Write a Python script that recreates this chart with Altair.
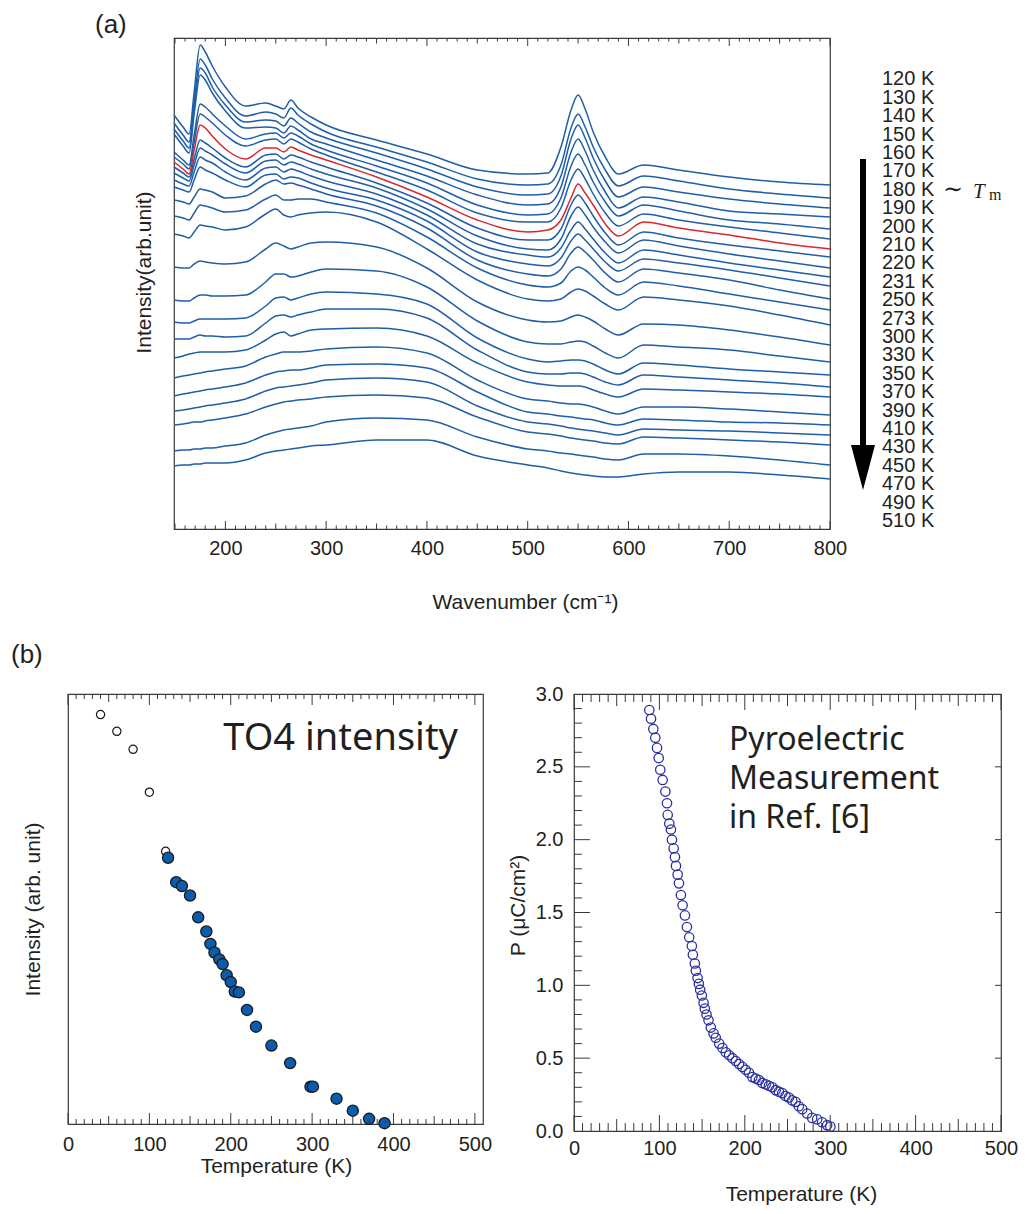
import altair as alt
import pandas as pd

# ---------------- colours / fonts ----------------
INK = "#231f20"
FRAME = "#3a3a3a"
LINE_BLUE = "#1f5ea8"
LINE_RED = "#d9282f"
DOT_BLUE = "#0b5cad"
NAVY = "#2b2f9e"
SANS = "Liberation Sans"
GOTHIC = "Noto Sans"
SERIF = "Liberation Serif"

# ---------------- panel (a): spectra ----------------
WAVENUMBER = [149, 158, 164, 169, 175, 180, 187, 200, 220, 240, 250, 258, 265, 272, 285,
              300, 350, 400, 450, 500, 520, 533, 543, 550, 557, 565, 577, 590, 615, 650,
              700, 750, 800]
TEMP_LABELS = ["120 K", "130 K", "140 K", "150 K", "160 K", "170 K", "180 K", "190 K",
               "200 K", "210 K", "220 K", "231 K", "250 K", "273 K", "300 K", "330 K",
               "350 K", "370 K", "390 K", "410 K", "430 K", "450 K", "470 K", "490 K", "510 K"]
RED_CURVE = "180 K"
# readings of each offset trace, measured downward (intensity = REF - reading)
REF = 527
SPECTRA = [
    [113, 125, 132, 90, 43, 50, 64, 85, 104, 101, 104, 107, 98, 106, 115, 123, 138, 152, 168, 172, 171, 145, 108, 93, 107, 130, 155, 172, 163, 168, 175, 180, 183],
    [121, 133, 140, 100, 57, 63, 77, 96, 114, 110, 112, 116, 106, 113, 122, 130, 145, 160, 177, 183, 182, 163, 126, 112, 125, 145, 168, 184, 174, 179, 187, 192, 196],
    [127, 139, 146, 106, 66, 71, 85, 103, 120, 118, 119, 124, 116, 121, 130, 136, 151, 167, 185, 193, 192, 174, 137, 123, 136, 156, 179, 195, 185, 190, 197, 202, 206],
    [132, 144, 151, 112, 73, 78, 91, 109, 126, 125, 126, 131, 124, 128, 137, 142, 158, 174, 193, 203, 202, 185, 150, 137, 149, 168, 190, 206, 195, 200, 209, 212, 215],
    [150, 158, 163, 133, 102, 105, 112, 124, 137, 132, 131, 136, 131, 134, 142, 148, 164, 181, 203, 213, 212, 196, 164, 152, 163, 180, 200, 214, 203, 209, 218, 222, 227],
    [155, 162, 167, 140, 112, 115, 121, 133, 144, 138, 137, 142, 137, 140, 147, 153, 170, 188, 211, 220, 220, 206, 178, 167, 177, 192, 211, 224, 212, 218, 225, 231, 237],
    [160, 167, 172, 148, 123, 126, 134, 147, 157, 146, 146, 150, 145, 148, 153, 158, 175, 195, 218, 230, 228, 218, 196, 182, 191, 203, 222, 234, 220, 226, 233, 241, 247],
    [165, 171, 175, 157, 138, 141, 146, 156, 165, 153, 152, 157, 153, 155, 160, 165, 181, 201, 226, 238, 238, 227, 203, 193, 201, 214, 231, 243, 230, 236, 243, 249, 255],
    [171, 176, 179, 163, 146, 149, 153, 162, 171, 159, 158, 163, 160, 162, 167, 172, 186, 207, 234, 247, 248, 237, 214, 205, 213, 225, 240, 251, 238, 244, 252, 259, 266],
    [178, 182, 184, 170, 155, 158, 161, 170, 178, 166, 165, 170, 167, 169, 174, 179, 192, 213, 242, 253, 255, 246, 228, 220, 227, 237, 251, 261, 248, 253, 261, 268, 275],
    [185, 188, 190, 178, 165, 168, 171, 178, 185, 173, 172, 177, 175, 176, 181, 186, 198, 219, 250, 262, 264, 256, 239, 232, 238, 247, 260, 269, 257, 261, 268, 276, 284],
    [198, 200, 202, 195, 187, 188, 190, 196, 194, 182, 178, 182, 181, 183, 187, 192, 204, 226, 258, 272, 274, 267, 251, 245, 250, 258, 271, 280, 267, 271, 278, 288, 297],
    [214, 216, 218, 211, 203, 204, 206, 210, 208, 197, 193, 198, 198, 197, 197, 200, 211, 235, 266, 283, 285, 281, 269, 265, 268, 275, 286, 293, 280, 284, 292, 300, 308],
    [232, 234, 236, 230, 223, 224, 225, 228, 225, 212, 207, 213, 215, 213, 211, 210, 220, 247, 278, 297, 299, 297, 290, 287, 289, 294, 302, 308, 295, 298, 304, 313, 323],
    [265, 266, 266, 262, 259, 260, 261, 262, 260, 247, 241, 244, 247, 245, 241, 240, 245, 266, 300, 318, 320, 319, 315, 313, 315, 319, 327, 333, 322, 323, 328, 335, 343],
    [298, 299, 299, 296, 293, 293, 294, 294, 293, 280, 272, 272, 275, 274, 270, 267, 269, 285, 319, 340, 342, 342, 340, 339, 340, 344, 351, 356, 343, 345, 348, 354, 360],
    [320, 321, 321, 319, 317, 317, 317, 317, 316, 304, 296, 295, 298, 296, 292, 290, 292, 302, 336, 357, 360, 359, 358, 358, 359, 362, 368, 372, 361, 363, 367, 370, 373],
    [337, 337, 337, 335, 333, 334, 334, 335, 334, 321, 314, 313, 315, 313, 310, 307, 307, 316, 348, 370, 372, 372, 371, 371, 372, 375, 380, 383, 373, 375, 378, 381, 385],
    [356, 354, 352, 351, 350, 350, 350, 350, 348, 338, 332, 330, 334, 332, 328, 327, 326, 334, 361, 380, 383, 384, 384, 384, 385, 388, 392, 395, 387, 388, 390, 392, 395],
    [376, 374, 373, 372, 371, 370, 369, 367, 364, 355, 352, 350, 350, 350, 349, 347, 345, 351, 378, 397, 399, 401, 402, 402, 403, 405, 409, 412, 405, 405, 407, 410, 413],
    [394, 392, 391, 390, 389, 388, 387, 385, 381, 373, 370, 369, 368, 368, 366, 363, 362, 366, 390, 410, 412, 414, 415, 416, 417, 418, 421, 423, 417, 418, 420, 421, 423],
    [409, 408, 407, 406, 405, 404, 403, 401, 397, 389, 386, 385, 384, 383, 381, 378, 376, 380, 404, 420, 422, 424, 426, 427, 428, 429, 431, 433, 427, 428, 429, 431, 433],
    [423, 422, 421, 420, 420, 419, 418, 416, 412, 405, 402, 400, 399, 398, 397, 395, 393, 396, 415, 430, 432, 434, 436, 437, 438, 439, 441, 442, 435, 436, 438, 440, 443],
    [449, 448, 448, 447, 447, 446, 446, 444, 441, 433, 430, 428, 427, 426, 424, 420, 416, 418, 435, 447, 449, 451, 452, 453, 454, 455, 457, 458, 452, 452, 454, 458, 463],
    [464, 463, 463, 462, 462, 461, 461, 461, 458, 451, 449, 448, 447, 446, 444, 443, 438, 438, 454, 463, 466, 469, 471, 472, 473, 474, 475, 475, 472, 470, 470, 473, 477],
]
A_XTICK_LABELS = [200, 300, 400, 500, 600, 700, 800]

# ---------------- panel (b) left: TO4 intensity ----------------
OPEN_T = [40, 60, 80, 100, 120]
OPEN_I = [95.7, 91.8, 87.6, 77.6, 63.8]
FILL_T = [123, 133, 140, 150, 160, 170, 175, 180, 186, 190, 195, 200, 205, 210, 220, 231,
          250, 273, 298, 301, 330, 350, 370, 389]
FILL_I = [62.3, 56.6, 55.7, 53.5, 48.4, 45.1, 42.2, 40.2, 38.6, 37.5, 34.9, 33.3, 31.1, 30.9,
          26.8, 22.9, 18.5, 14.4, 8.9, 8.9, 6.1, 3.3, 1.4, 0.4]
B_XTICK_LABELS = [0, 100, 200, 300, 400, 500]

# ---------------- panel (b) right: pyroelectric P ----------------
PYRO_T = [88.2, 90.2, 92.9, 95.2, 97.2, 99.2, 101.0, 103.8, 107.0, 108.9, 109.7, 111.6, 113.5,
          114.7, 116.7, 118.2, 119.4, 121.4, 122.9, 125.2, 127.2, 129.9, 132.2, 134.9, 138.0,
          139.2, 141.5, 142.7, 144.7, 146.2, 147.7, 149.7, 151.7, 153.2, 155.2, 157.5, 160.2,
          163.4, 166.0, 170.0, 173.9, 177.7, 181.6, 185.5, 189.4, 193.2, 197.2, 201.0, 204.9,
          208.9, 212.7, 216.6, 220.5, 224.4, 228.3, 232.2, 236.1, 239.9, 243.9, 247.7, 251.6,
          255.5, 259.4, 263.3, 267.2, 273.0, 278.9, 284.7, 290.5, 296.4, 300.2]
PYRO_P = [2.89, 2.83, 2.76, 2.70, 2.63, 2.56, 2.48, 2.41, 2.33, 2.25, 2.17, 2.11, 2.07, 2.00,
          1.94, 1.88, 1.82, 1.76, 1.70, 1.62, 1.55, 1.48, 1.40, 1.33, 1.27, 1.21, 1.15, 1.10,
          1.05, 1.01, 0.97, 0.93, 0.88, 0.84, 0.80, 0.76, 0.71, 0.67, 0.64, 0.60, 0.57, 0.54,
          0.52, 0.50, 0.48, 0.46, 0.44, 0.42, 0.40, 0.37, 0.36, 0.35, 0.33, 0.32, 0.31, 0.30,
          0.28, 0.27, 0.26, 0.24, 0.23, 0.21, 0.20, 0.17, 0.15, 0.12, 0.09, 0.08, 0.06, 0.04, 0.03]
P_TICK_LABELS = [0.0, 0.5, 1.0, 1.5, 2.0, 2.5, 3.0]

assert all(len(s) == len(WAVENUMBER) for s in SPECTRA)
assert len(PYRO_T) == len(PYRO_P)

# ---------------- sizes ----------------
A_W, A_H = 656, 491
BL_W, BL_H = 415, 430
BR_W, BR_H = 427, 437


def split_ticks(lo, hi, step, med, major):
    minor_v, med_v, major_v = [], [], []
    n = int(round((hi - lo) / step))
    for k in range(n + 1):
        r = round(lo + k * step, 4)
        if abs(r / major - round(r / major)) < 1e-6:
            major_v.append(r)
        elif abs(r / med - round(r / med)) < 1e-6:
            med_v.append(r)
        else:
            minor_v.append(r)
    return minor_v, med_v, major_v


def x_ticks(vals, length, h, side, scale, axis):
    df = pd.DataFrame({"v": vals})
    if side == "bottom":
        y, y2 = alt.value(h), alt.value(h - length)
    else:
        y, y2 = alt.value(0), alt.value(length)
    return alt.Chart(df).mark_rule(color=FRAME, strokeWidth=1).encode(
        x=alt.X("v:Q", scale=scale, axis=axis), y=y, y2=y2)


def y_ticks(vals, length, w, side, scale, axis):
    df = pd.DataFrame({"v": vals})
    if side == "left":
        x, x2 = alt.value(0), alt.value(length)
    else:
        x, x2 = alt.value(w), alt.value(w - length)
    return alt.Chart(df).mark_rule(color=FRAME, strokeWidth=1).encode(
        y=alt.Y("v:Q", scale=scale, axis=axis), x=x, x2=x2)


def anchor(px, py):
    # invisible layout anchor (fixes the bounds used by the concat layout)
    return alt.Chart(pd.DataFrame({"a": [0]})).mark_point(
        filled=True, opacity=0, size=1).encode(x=alt.value(px), y=alt.value(py))


def text_mark(txt, px, py, **kw):
    return alt.Chart(pd.DataFrame({"t": [txt]})).mark_text(**kw).encode(
        text="t:N", x=alt.value(px), y=alt.value(py))


TITLE = dict(titleFont=SANS, titleFontSize=21, titleFontWeight="normal", titleColor=INK,
             titleBaseline="alphabetic", titleAlign="center")
LABEL = dict(labelFont=SANS, labelFontSize=20, labelColor=INK, labelFlush=False,
             ticks=False, domain=False, grid=False)

# ================= panel (a) =================
rows = []
for lab, series in zip(TEMP_LABELS, SPECTRA):
    for w, r in zip(WAVENUMBER, series):
        rows.append({"wn": w, "I": REF - r, "T": lab})
spec_df = pd.DataFrame(rows)

xs_a = alt.Scale(domain=[149, 800], nice=False, zero=False)
ys_a = alt.Scale(domain=[0, A_H], nice=False, zero=False)

ax_a_x = alt.Axis(values=A_XTICK_LABELS, labelPadding=9, title="Wavenumber (cm⁻¹)",
                  titleX=351, titleY=79, **TITLE, **LABEL)
ax_a_y = alt.Axis(labels=False, title="Intensity(arb.unit)", titleX=-24, titleY=234,
                  titleAngle=270, **TITLE, **LABEL)

blue_lines = alt.Chart(spec_df[spec_df["T"] != RED_CURVE]).mark_line(
    color=LINE_BLUE, strokeWidth=1.5, interpolate="monotone").encode(
    x=alt.X("wn:Q", scale=xs_a, axis=ax_a_x),
    y=alt.Y("I:Q", scale=ys_a, axis=ax_a_y),
    detail="T:N")
red_line = alt.Chart(spec_df[spec_df["T"] == RED_CURVE]).mark_line(
    color=LINE_RED, strokeWidth=1.5, interpolate="monotone").encode(
    x=alt.X("wn:Q", scale=xs_a, axis=ax_a_x),
    y=alt.Y("I:Q", scale=ys_a, axis=ax_a_y))

a_minor, a_med, a_major = split_ticks(150, 800, 10, 50, 100)
a_ticks = []
for side in ("bottom", "top"):
    a_ticks += [x_ticks(a_minor, 3.5, A_H, side, xs_a, ax_a_x),
                x_ticks(a_med, 5.5, A_H, side, xs_a, ax_a_x),
                x_ticks(a_major, 8, A_H, side, xs_a, ax_a_x)]

# temperature labels stacked at the right of the frame (positions in intensity units)
LABEL_STEP = 18.4
lab_df = pd.DataFrame({"lab": TEMP_LABELS,
                       "I": [REF - 77.4 - LABEL_STEP * i for i in range(len(TEMP_LABELS))]})
labels_text = alt.Chart(lab_df).mark_text(
    align="left", baseline="middle", font=SANS, fontSize=20, color=INK).encode(
    text="lab:N", x=alt.value(708), y=alt.Y("I:Q", scale=ys_a, axis=ax_a_y))

# arrow (top of shaft, bottom of shaft, centre of head) in intensity units
ARROW = pd.DataFrame({"top": [REF - 157], "bot": [REF - 450], "head": [REF - 465.5]})
shaft = alt.Chart(ARROW).mark_rule(color="black", strokeWidth=6).encode(
    x=alt.value(689), y=alt.Y("top:Q", scale=ys_a, axis=ax_a_y), y2="bot:Q")
head = alt.Chart(ARROW).mark_point(
    shape="M-1,-1.875L1,-1.875L0,1.875Z", filled=True, color="black", opacity=1,
    size=576, strokeWidth=0).encode(
    x=alt.value(689), y=alt.Y("head:Q", scale=ys_a, axis=ax_a_y))

tm_df = lab_df[lab_df["lab"] == RED_CURVE]
tilde = alt.Chart(tm_df).mark_text(text="∼", align="left", baseline="middle",
                                   font="DejaVu Serif", fontSize=24, color=INK).encode(
    x=alt.value(769), y=alt.Y("I:Q", scale=ys_a, axis=ax_a_y))
t_sym = alt.Chart(tm_df).mark_text(text="T", align="left", baseline="alphabetic",
                                   font=SERIF, fontStyle="italic", fontSize=21,
                                   color=INK, dy=8).encode(
    x=alt.value(799), y=alt.Y("I:Q", scale=ys_a, axis=ax_a_y))
m_sym = alt.Chart(tm_df).mark_text(text="m", align="left", baseline="alphabetic",
                                   font=SERIF, fontSize=16, color=INK, dy=10).encode(
    x=alt.value(815), y=alt.Y("I:Q", scale=ys_a, axis=ax_a_y))

a_label = text_mark("(a)", -79, -26.5, align="left", baseline="top", font=SANS,
                    fontSize=26, color=INK)

panel_a = alt.layer(blue_lines, red_line, *a_ticks, labels_text, shaft, head,
                    tilde, t_sym, m_sym, a_label,
                    anchor(-80, -28), anchor(0, 586)).properties(width=A_W, height=A_H)

# empty cell that shifts panel (a) to the right of panel (b)-left's frame
spacer_a = anchor(0, 0).properties(width=22.44, height=A_H,
                                   view=alt.ViewBackground(stroke="transparent"))

# ================= panel (b) left =================
xs_bl = alt.Scale(domain=[0, 510], nice=False, zero=False)
ys_bl = alt.Scale(domain=[0.2, 100.5], nice=False, zero=False)
ax_bl_x = alt.Axis(values=B_XTICK_LABELS, labelPadding=10.5, title="Temperature (K)",
                   titleX=208, titleY=48, **TITLE, **LABEL)
ax_bl_y = alt.Axis(labels=False, title="Intensity (arb. unit)", titleX=-29, titleY=215,
                   titleAngle=270, **TITLE, **LABEL)

open_pts = alt.Chart(pd.DataFrame({"T": OPEN_T, "I": OPEN_I})).mark_point(
    shape="circle", filled=True, fill="white", stroke="#1a1a1a", strokeWidth=1.2,
    size=68, opacity=1).encode(
    x=alt.X("T:Q", scale=xs_bl, axis=ax_bl_x), y=alt.Y("I:Q", scale=ys_bl, axis=ax_bl_y))
fill_pts = alt.Chart(pd.DataFrame({"T": FILL_T, "I": FILL_I})).mark_point(
    shape="circle", filled=True, fill=DOT_BLUE, stroke="#1a1a1a", strokeWidth=1.3,
    size=125, opacity=1).encode(
    x=alt.X("T:Q", scale=xs_bl, axis=ax_bl_x), y=alt.Y("I:Q", scale=ys_bl, axis=ax_bl_y))
to4_text = text_mark("TO4 intensity", 390, 56, align="right", baseline="alphabetic",
                     font=GOTHIC, fontSize=38, color=INK)
b_label = text_mark("(b)", -57, -52, align="left", baseline="top", font=SANS,
                    fontSize=26, color=INK)

bl_minor, bl_med, bl_major = split_ticks(0, 500, 10, 50, 100)
bl_ticks = []
for side in ("bottom", "top"):
    bl_ticks += [x_ticks(bl_minor, 5, BL_H, side, xs_bl, ax_bl_x),
                 x_ticks(bl_med, 8, BL_H, side, xs_bl, ax_bl_x),
                 x_ticks(bl_major, 11, BL_H, side, xs_bl, ax_bl_x)]

panel_bl = alt.layer(open_pts, fill_pts, to4_text, b_label, *bl_ticks,
                     anchor(-58.5, -60), anchor(425, 200)).properties(width=BL_W, height=BL_H)

# ================= panel (b) right =================
xs_br = alt.Scale(domain=[0, 500], nice=False, zero=False)
ys_br = alt.Scale(domain=[0, 3], nice=False, zero=False)
ax_br_x = alt.Axis(values=B_XTICK_LABELS, labelPadding=7, title="Temperature (K)",
                   titleX=227, titleY=69, **TITLE, **LABEL)
ax_br_y = alt.Axis(values=P_TICK_LABELS, format=".1f", labelPadding=11,
                   title="P (μC/cm²)", titleX=-50, titleY=211, titleAngle=270,
                   **TITLE, **LABEL)

pyro_pts = alt.Chart(pd.DataFrame({"T": PYRO_T, "P": PYRO_P})).mark_point(
    shape="circle", filled=False, color=NAVY, strokeWidth=1.3, size=88, opacity=1).encode(
    x=alt.X("T:Q", scale=xs_br, axis=ax_br_x), y=alt.Y("P:Q", scale=ys_br, axis=ax_br_y))
pyro_text = alt.Chart(pd.DataFrame({"t": ["Pyroelectric\nMeasurement\nin Ref. [6]"]})).mark_text(
    align="left", baseline="alphabetic", font=GOTHIC, fontSize=32, color=INK,
    lineBreak="\n", lineHeight=39).encode(
    text="t:N", x=alt.value(155), y=alt.value(56))

br_minor, br_med, br_major = split_ticks(0, 500, 10, 50, 100)
p_minor, _p_med, p_major = split_ticks(0.1, 2.9, 0.1, 0.5, 0.5)
br_ticks = []
for side in ("bottom", "top"):
    br_ticks += [x_ticks(br_minor, 8, BR_H, side, xs_br, ax_br_x),
                 x_ticks(br_med, 12, BR_H, side, xs_br, ax_br_x),
                 x_ticks(br_major, 16, BR_H, side, xs_br, ax_br_x)]
br_ticks += [y_ticks(p_minor, 8, BR_W, "left", ys_br, ax_br_y),
             y_ticks(p_major, 16, BR_W, "left", ys_br, ax_br_y),
             y_ticks(p_major, 6, BR_W, "right", ys_br, ax_br_y)]

panel_br = alt.layer(pyro_pts, pyro_text, *br_ticks,
                     anchor(-75, -60)).properties(width=BR_W, height=BR_H)

row_a = alt.hconcat(spacer_a, panel_a, spacing=0)
row_b = alt.hconcat(panel_bl, panel_br, spacing=2)
chart = alt.vconcat(row_a, row_b, spacing=6).properties(
    padding={"left": 0, "top": 0, "right": 0, "bottom": 0},
    background="white",
).configure_view(stroke=FRAME, strokeWidth=1.2).configure_axis(grid=False)

chart.save("out.html", embed_options={"renderer": "svg", "actions": False})
